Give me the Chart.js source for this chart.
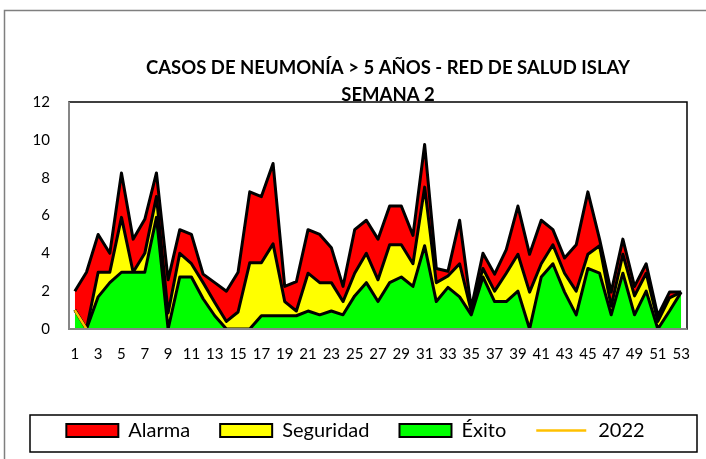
<!DOCTYPE html>
<html>
<head>
<meta charset="utf-8">
<script src="https://cdn.jsdelivr.net/npm/chart.js@4.4.0/dist/chart.umd.min.js"></script>
<style>
  body { margin: 0; background: #fff; }
  #wrap { width: 706px; height: 459px; }
</style>
</head>
<body>
<div id="wrap"><canvas id="chart"></canvas></div>
<script>
const weeks = [];
for (let i = 1; i <= 53; i++) weeks.push(String(i));

// corredor endemico - stacked bands
const exito = [
  1, 0, 1.7, 2.45, 3, 3, 3, 5.9, 0, 2.75,
  2.75, 1.6, 0.7, 0, 0, 0, 0.7, 0.7, 0.7, 0.7,
  0.95, 0.75, 0.95, 0.75, 1.75, 2.45, 1.45, 2.45, 2.75, 2.25,
  4.4, 1.45, 2.2, 1.7, 0.75, 2.75, 1.45, 1.45, 2, 0,
  2.75, 3.45, 1.95, 0.75, 3.2, 2.95, 0.75, 2.95, 0.75, 2,
  0, 0.95, 1.95,
];
const seguridad = [
  0, 0, 1.3, 0.55, 2.9, 0, 1, 1.1, 0.85, 1.25,
  0.7, 0.85, 0.7, 0.4, 0.9, 3.5, 2.8, 3.8, 0.75, 0.25,
  2, 1.7, 1.5, 0.7, 1.2, 1.55, 1.15, 2, 1.7, 1.2,
  3.1, 1, 0.6, 1.75, 0.2, 0.45, 0.55, 1.5, 1.95, 1.95,
  0.7, 1, 1, 1.25, 0.75, 1.45, 0.45, 1, 1, 0.95,
  0.4, 0.7, 0,
];
const alarma = [
  1, 3, 2, 1, 2.35, 1.75, 1.8, 1.25, 1.75, 1.25,
  1.55, 0.45, 1.05, 1.6, 2.1, 3.75, 3.5, 4.25, 0.8, 1.55,
  2.3, 2.55, 1.85, 0.8, 2.3, 1.75, 2.15, 2.05, 2.05, 1.5,
  2.25, 0.75, 0.25, 2.3, 0.15, 0.8, 0.9, 1.25, 2.55, 2,
  2.3, 0.8, 0.8, 2.45, 3.3, 0.35, 0.75, 0.8, 0.5, 0.5,
  0.3, 0.3, 0,
];
const casos2022 = [1, 0];

const yTicks = [0, 2, 4, 6, 8, 10, 12];
const titulo = ["CASOS DE NEUMONÍA > 5 AÑOS - RED DE SALUD ISLAY", "SEMANA 2"];
const legendOrder = { Alarma: 0, Seguridad: 1, "Éxito": 2, "2022": 3 };

const FONT = "Lato, 'Liberation Sans', sans-serif";
const COLOR_2022 = "#ffc000";

const bordes = {
  id: "bordes",
  afterInit(chart) {
    // leyenda con separacion ancha pero altura fija
    const lg = chart.legend;
    const fit = lg.fit.bind(lg);
    lg.fit = function () {
      fit();
      this.height = 68.5;
    };
  },
  beforeDraw(chart) {
    const ctx = chart.ctx;
    ctx.save();
    ctx.strokeStyle = "#7f7f7f";
    ctx.lineWidth = 1.5;
    ctx.strokeRect(4.5, 10.5, 800, 800);
    ctx.restore();
  },
  afterDraw(chart) {
    const ctx = chart.ctx;
    const a = chart.chartArea;
    ctx.save();
    ctx.strokeStyle = "#000";
    ctx.lineWidth = 1.5;
    ctx.strokeRect(a.left, a.top, a.right - a.left, a.bottom - a.top);
    ctx.strokeStyle = "#868686";
    ctx.lineWidth = 2;
    ctx.beginPath();
    ctx.moveTo(a.left, a.top);
    ctx.lineTo(a.left, a.bottom);
    ctx.lineTo(a.right, a.bottom);
    ctx.stroke();
    // titulo
    ctx.fillStyle = "#000";
    ctx.font = "bold 18.5px " + FONT;
    ctx.textAlign = "center";
    ctx.textBaseline = "middle";
    ctx.fillText(titulo[0], 388, a.top - 34);
    ctx.fillText(titulo[1], 388, a.top - 7);
    // caja de la leyenda
    const lg = chart.legend;
    ctx.strokeStyle = "#000";
    ctx.lineWidth = 1.5;
    ctx.strokeRect(30, lg.top + 24.5, 667, 37);
    // muestra de linea para 2022
    const idx = lg.legendItems.findIndex((it) => it.text === "2022");
    const hb = lg.legendHitBoxes[idx];
    if (hb) {
      const y = hb.top + hb.height / 2;
      ctx.strokeStyle = COLOR_2022;
      ctx.lineWidth = 2.5;
      ctx.beginPath();
      ctx.moveTo(hb.left, y);
      ctx.lineTo(hb.left + 50, y);
      ctx.stroke();
    }
    ctx.restore();
  },
};

const area = (label, data, color, fill) => ({
  label,
  data,
  backgroundColor: color,
  borderColor: "#000",
  borderWidth: 3,
  borderJoinStyle: "round",
  pointRadius: 0,
  tension: 0,
  fill,
  stack: "corredor",
  order: 1,
});

new Chart(document.getElementById("chart"), {
  type: "line",
  data: {
    labels: weeks,
    datasets: [
      area("Éxito", exito, "#00ff00", "origin"),
      area("Seguridad", seguridad, "#ffff00", "-1"),
      area("Alarma", alarma, "#ff0000", "-1"),
      {
        label: "2022",
        data: casos2022,
        borderColor: COLOR_2022,
        backgroundColor: COLOR_2022,
        borderWidth: 2.5,
        pointRadius: 0,
        fill: false,
        stack: "casos",
        order: 0,
      },
    ],
  },
  options: {
    responsive: true,
    maintainAspectRatio: false,
    animation: false,
    layout: { padding: { left: 19, right: 14, top: 102, bottom: 0 } },
    plugins: {
      tooltip: { enabled: false },
      title: { display: false },
      legend: {
        position: "bottom",
        labels: {
          color: "#000",
          font: { family: FONT, size: 20 },
          boxWidth: 52,
          boxHeight: 13,
          padding: 30,
          sort: (a, b) => legendOrder[a.text] - legendOrder[b.text],
          generateLabels(chart) {
            return chart.data.datasets.map((ds, i) => ({
              text: ds.label,
              datasetIndex: i,
              fillStyle: ds.label === "2022" ? "rgba(0,0,0,0)" : ds.backgroundColor,
              strokeStyle: ds.label === "2022" ? "rgba(0,0,0,0)" : "#000",
              lineWidth: ds.label === "2022" ? 0 : 2,
              fontColor: "#000",
              hidden: false,
            }));
          },
        },
      },
    },
    scales: {
      x: {
        offset: true,
        grid: { display: false, drawTicks: false },
        border: { display: false },
        afterFit(s) { s.height = 61.5; },
        ticks: {
          autoSkip: false,
          maxRotation: 0,
          padding: 16,
          color: "#000",
          font: { family: FONT, size: 15 },
          callback(v, i) { return i % 2 === 0 ? weeks[i] : ""; },
        },
      },
      y: {
        stacked: true,
        min: 0,
        max: 12,
        grid: { display: false, drawTicks: false },
        border: { display: false },
        afterFit(s) { s.width = 50; },
        afterBuildTicks(s) { s.ticks = yTicks.map((v) => ({ value: v })); },
        ticks: {
          padding: 19,
          color: "#000",
          font: { family: FONT, size: 15 },
        },
      },
    },
  },
  plugins: [bordes],
});
</script>
</body>
</html>
